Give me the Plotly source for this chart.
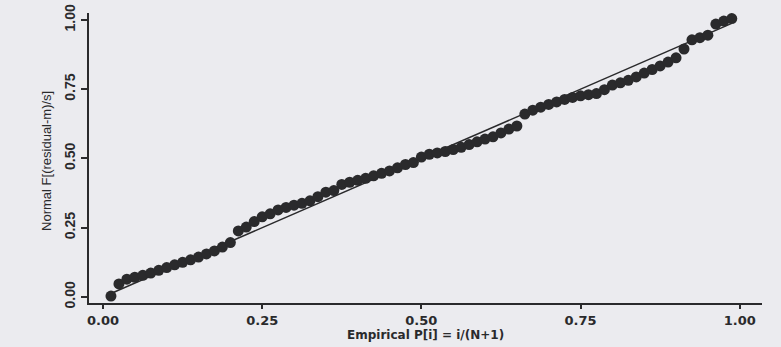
import plotly.graph_objects as go

# Empirical P[i] = i/(N+1)
emp_p = [0.0125, 0.025, 0.0375, 0.05, 0.0625, 0.075, 0.0875, 0.1, 0.1125, 0.125,
         0.1375, 0.15, 0.1625, 0.175, 0.1875, 0.2, 0.2125, 0.225, 0.2375, 0.25,
         0.2625, 0.275, 0.2875, 0.3, 0.3125, 0.325, 0.3375, 0.35, 0.3625, 0.375,
         0.3875, 0.4, 0.4125, 0.425, 0.4375, 0.45, 0.4625, 0.475, 0.4875, 0.5,
         0.5125, 0.525, 0.5375, 0.55, 0.5625, 0.575, 0.5875, 0.6, 0.6125, 0.625,
         0.6375, 0.65, 0.6625, 0.675, 0.6875, 0.7, 0.7125, 0.725, 0.7375, 0.75,
         0.7625, 0.775, 0.7875, 0.8, 0.8125, 0.825, 0.8375, 0.85, 0.8625, 0.875,
         0.8875, 0.9, 0.9125, 0.925, 0.9375, 0.95, 0.9625, 0.975, 0.9875]

# Normal F[(residual-m)/s]
normal_f = [0.003, 0.047, 0.064, 0.071, 0.078, 0.086, 0.096, 0.106, 0.116, 0.125,
            0.134, 0.144, 0.155, 0.166, 0.180, 0.196, 0.238, 0.252, 0.272, 0.289,
            0.300, 0.314, 0.323, 0.331, 0.338, 0.347, 0.362, 0.378, 0.384, 0.406,
            0.414, 0.421, 0.428, 0.437, 0.446, 0.455, 0.466, 0.478, 0.485, 0.505,
            0.515, 0.520, 0.525, 0.532, 0.540, 0.550, 0.560, 0.570, 0.578, 0.592,
            0.606, 0.617, 0.660, 0.674, 0.685, 0.695, 0.704, 0.713, 0.720, 0.726,
            0.730, 0.734, 0.748, 0.765, 0.773, 0.782, 0.794, 0.808, 0.821, 0.834,
            0.848, 0.863, 0.895, 0.928, 0.936, 0.945, 0.985, 0.996, 1.005]

ref_line = [emp_p[0], emp_p[-1]]

tick_vals = [0.0, 0.25, 0.5, 0.75, 1.0]
tick_text = ["0.00", "0.25", "0.50", "0.75", "1.00"]

x_title = "Empirical P[i] = i/(N+1)"
y_title = "Normal F[(residual-m)/s]"

ink = "#2a2a2c"
bg = "#ebebef"

fig = go.Figure()
fig.add_trace(go.Scatter(x=ref_line, y=ref_line, mode="lines",
                         line=dict(color=ink, width=1.5), showlegend=False,
                         hoverinfo="skip"))
fig.add_trace(go.Scatter(x=emp_p, y=normal_f, mode="markers",
                         marker=dict(color=ink, size=11, line=dict(width=0)),
                         showlegend=False))

fig.update_layout(
    width=781, height=347,
    margin=dict(l=89, r=19, t=13, b=44),
    paper_bgcolor=bg,
    plot_bgcolor=bg,
    font=dict(family="Liberation Sans", color=ink),
    xaxis=dict(
        range=[-0.022, 1.035],
        tickvals=tick_vals, ticktext=tick_text,
        automargin=False,
        showgrid=False, zeroline=False,
        showline=True, linecolor=ink, linewidth=2,
        ticks="outside", ticklen=4, tickwidth=2, tickcolor=ink,
        tickfont=dict(family="DejaVu Sans", size=13, weight="bold", color=ink),
    ),
    yaxis=dict(
        range=[-0.022, 1.025],
        tickvals=tick_vals, ticktext=tick_text,
        tickangle=-90,
        automargin=False,
        showgrid=False, zeroline=False,
        showline=True, linecolor=ink, linewidth=2,
        ticks="outside", ticklen=6, tickwidth=2, tickcolor=ink,
        tickfont=dict(family="Liberation Sans Narrow, Liberation Sans", size=14, weight="bold", color=ink),
    ),
    annotations=[
        dict(text=x_title, xref="paper", yref="paper", x=0.5, y=-0.112,
             xanchor="center", yanchor="middle", showarrow=False,
             font=dict(family="DejaVu Sans", size=12, weight="bold", color=ink)),
        dict(text=y_title, xref="paper", yref="paper", x=-0.0624, y=0.49,
             xanchor="center", yanchor="middle", showarrow=False, textangle=-90,
             font=dict(family="Liberation Sans Narrow, Liberation Sans", size=13, color=ink)),
    ],
)

fig.write_html("out.html",
               config={"displayModeBar": False},
               post_script="document.body.style.margin='0';document.body.style.background='%s';" % bg)
